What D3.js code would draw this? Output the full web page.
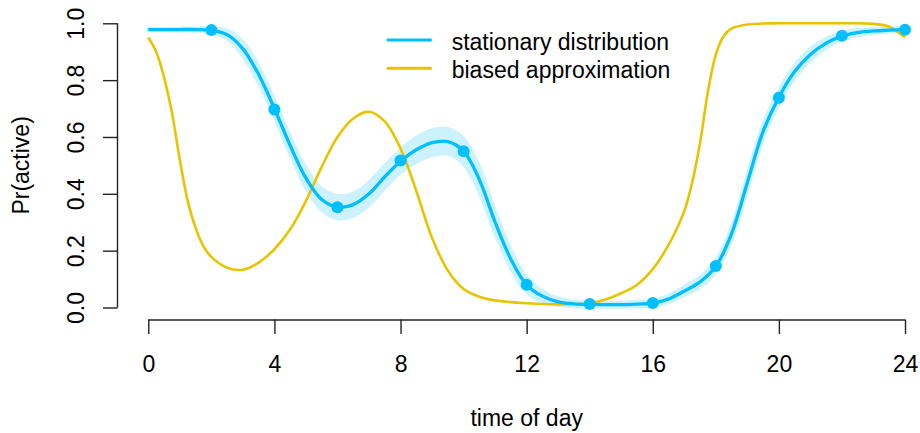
<!DOCTYPE html>
<html><head><meta charset="utf-8">
<script src="https://cdn.jsdelivr.net/npm/d3@7"></script>
<style>
html,body{margin:0;padding:0;background:#fff;}
svg text{font-family:"Liberation Sans",Arial,Helvetica,sans-serif;fill:#000;}
</style></head>
<body>
<svg id="chart" width="920" height="433"></svg>
<script>
// ---- data ----
const blueT = [0,0.5,1,1.5,2,2.5,3,3.5,4,4.5,5,5.5,6,6.5,7,7.5,8,8.5,9,9.5,10,10.5,11,11.5,12,12.5,13,13.5,14,14.5,15,15.5,16,16.5,17,17.5,18,18.5,19,19.5,20,20.5,21,21.5,22,22.5,23,23.5,24];
const blueMean = [0.978,0.978,0.978,0.978,0.975,0.96,0.91,0.82,0.70,0.57,0.455,0.38,0.353,0.362,0.40,0.46,0.515,0.555,0.58,0.584,0.55,0.45,0.30,0.17,0.08,0.04,0.02,0.013,0.011,0.01,0.01,0.012,0.015,0.03,0.058,0.09,0.145,0.26,0.44,0.62,0.74,0.83,0.89,0.93,0.955,0.967,0.973,0.976,0.978];
const blueHalf = [0.003,0.003,0.004,0.005,0.008,0.015,0.025,0.03,0.03,0.032,0.035,0.038,0.04,0.04,0.04,0.04,0.04,0.043,0.045,0.045,0.045,0.045,0.04,0.032,0.025,0.018,0.012,0.01,0.008,0.008,0.008,0.009,0.01,0.012,0.015,0.018,0.02,0.022,0.025,0.025,0.025,0.022,0.02,0.016,0.012,0.01,0.008,0.007,0.006];
const pointT = [2,4,6,8,10,12,14,16,18,20,22,24];
const pointV = [0.976,0.697,0.353,0.517,0.55,0.08,0.012,0.016,0.146,0.738,0.956,0.977];
const yellowT = [0,0.25,0.5,0.75,1,1.25,1.5,1.75,2,2.5,3,3.5,4,4.5,5,5.5,6,6.5,7,7.5,8,8.5,9,9.5,10,10.5,11,12,13,14,14.5,15,15.5,16,16.5,17,17.25,17.5,17.75,18,18.25,18.5,19,20,21,22,23,23.5,24];
const yellowV = [0.95,0.9,0.81,0.685,0.52,0.375,0.28,0.215,0.178,0.14,0.133,0.158,0.205,0.275,0.375,0.495,0.60,0.665,0.689,0.655,0.56,0.41,0.245,0.13,0.065,0.038,0.025,0.015,0.011,0.015,0.028,0.05,0.08,0.135,0.22,0.34,0.44,0.58,0.76,0.89,0.955,0.982,0.996,1.0,1.0,1.0,0.998,0.988,0.95];
const xTicks = [0,4,8,12,16,20,24];
const yTicks = [0,0.2,0.4,0.6,0.8,1.0];
const yTickLabels = ["0.0","0.2","0.4","0.6","0.8","1.0"];
const legendLabels = ["stationary distribution","biased approximation"];

// ---- layout ----
const svg = d3.select("#chart");
const BLUE = "#00BFFF", BAND = "#CCF2FF", GOLD = "#E8C400";
const x = d3.scaleLinear().domain([0,24]).range([148.3,905]);
const y = d3.scaleLinear().domain([0,1]).range([307.5,23.3]);

const blue = blueT.map((t,i)=>({t, m:blueMean[i], lo:blueMean[i]-blueHalf[i], hi:blueMean[i]+blueHalf[i]}));
const yel = yellowT.map((t,i)=>({t, v:yellowV[i]}));
const curve = d3.curveCatmullRom.alpha(0.5);

svg.append("path").datum(blue)
  .attr("d", d3.area().x(d=>x(d.t)).y0(d=>y(d.lo)).y1(d=>y(d.hi)).curve(curve))
  .attr("fill", BAND).attr("stroke", BAND).attr("stroke-width", 3.5);

svg.append("path").datum(yel)
  .attr("d", d3.line().x(d=>x(d.t)).y(d=>y(d.v)).curve(curve))
  .attr("fill","none").attr("stroke",GOLD).attr("stroke-width",2.6);

svg.append("path").datum(blue)
  .attr("d", d3.line().x(d=>x(d.t)).y(d=>y(d.m)).curve(curve))
  .attr("fill","none").attr("stroke",BLUE).attr("stroke-width",3.3);

svg.selectAll("circle.pt").data(pointT.map((t,i)=>({t,v:pointV[i]}))).enter()
  .append("circle").attr("class","pt")
  .attr("cx",d=>x(d.t)).attr("cy",d=>y(d.v)).attr("r",6).attr("fill",BLUE);

// ---- axes ----
const xAxis = d3.axisBottom(x).tickValues(xTicks).tickSize(14.5).tickPadding(20).tickFormat(d3.format("d"));
const gx = svg.append("g").attr("transform","translate(0,319.5)").call(xAxis);
gx.select(".domain").attr("d",`M${x(0)},0.5H${x(24)}`);
const yAxis = d3.axisLeft(y).tickValues(yTicks).tickSize(14.5).tickFormat((d,i)=>yTickLabels[i]);
const gy = svg.append("g").attr("transform","translate(117.5,0)").call(yAxis);
gy.select(".domain").attr("d",`M0,${y(0)}V${y(1)}`);
[gx,gy].forEach(g=>{
  g.selectAll(".domain,.tick line").attr("stroke","#222").attr("stroke-width",1.4);
  g.selectAll("text").attr("font-size",23).attr("font-family","Liberation Sans, Arial, sans-serif").attr("fill","#000");
});
gx.selectAll(".tick text").attr("dy",null).attr("y",52).attr("dominant-baseline","auto");
gy.selectAll(".tick text").attr("x",null).attr("dy",null)
  .attr("text-anchor","middle")
  .attr("transform","translate(-33.5,0) rotate(-90)");

svg.append("text").attr("x",526.7).attr("y",426).attr("text-anchor","middle")
  .attr("font-size",23).text("time of day");
svg.append("text").attr("transform","translate(29,165.4) rotate(-90)").attr("text-anchor","middle")
  .attr("font-size",23).text("Pr(active)");

// ---- legend ----
const leg = svg.append("g");
[BLUE,GOLD].forEach((c,i)=>{
  leg.append("line").attr("x1",386.7).attr("x2",431.7).attr("y1",40+28.3*i).attr("y2",40+28.3*i)
    .attr("stroke",c).attr("stroke-width",3);
  leg.append("text").attr("x",451.7).attr("y",50+28.3*i).attr("font-size",23).text(legendLabels[i]);
});
</script>
</body></html>
